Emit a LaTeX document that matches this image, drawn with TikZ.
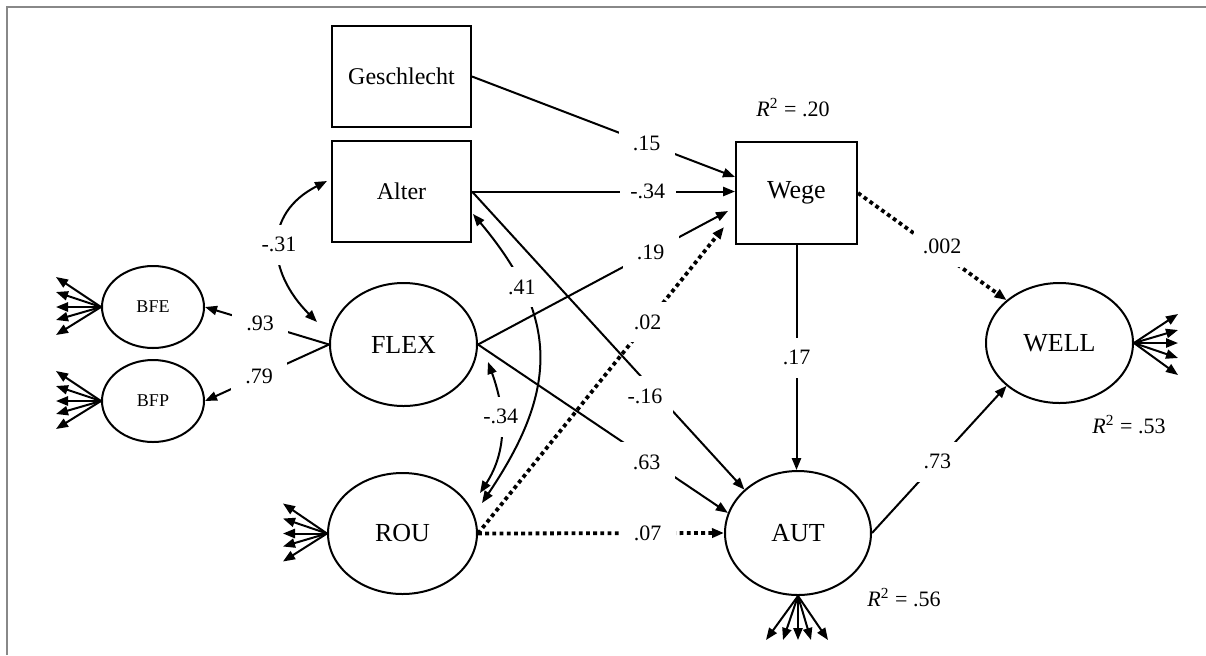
\documentclass[tikz,border=0pt]{standalone}
\usepackage{fontspec}
\setmainfont{Liberation Serif}
\usetikzlibrary{arrows.meta,shapes.geometric}
\definecolor{framegray}{HTML}{888888}

\begin{document}
\begin{tikzpicture}[x=0.5pt,y=0.5pt,
  >={Triangle[length=6pt,width=4.6pt]},
  box/.style={draw,line width=1pt,rectangle,inner sep=0pt,font=\fontsize{12}{14}\selectfont},
  latent/.style={draw,line width=1pt,ellipse,inner sep=0pt,font=\fontsize{13}{15}\selectfont},
  smalllatent/.style={draw,line width=1pt,ellipse,inner sep=0pt,font=\fontsize{9}{11}\selectfont,
    minimum width=51pt,minimum height=41pt},
  reg/.style={line width=1pt,->},
  ns/.style={line width=1.9pt,dash pattern=on 1.9pt off 1.7pt,->},
  cov/.style={line width=1pt,<->},
  ind/.style={line width=1pt,->},
  coef/.style={fill=white,inner sep=0pt,minimum width=28pt,minimum height=20pt,
    font=\fontsize{11}{13}\selectfont},
  rsq/.style={inner sep=0pt,font=\fontsize{11}{13}\selectfont}
]
\useasboundingbox (0,0) rectangle (1206,-655);

% frame
\draw[line width=1.1pt,framegray] (7,-655) -- (7,-7) -- (1206,-7);

% observed variables
\node[box,minimum width=69.5pt,minimum height=50.5pt] (ges) at (401.5,-76.5) {Geschlecht};
\node[box,minimum width=69.5pt,minimum height=50.5pt] (alter) at (401.5,-191.5) {Alter};
\node[box,minimum width=60.5pt,minimum height=51pt,font=\fontsize{13}{15}\selectfont] (wege) at (796.5,-193) {Wege};

% latent variables
\node[smalllatent] (bfe) at (153,-307) {BFE};
\node[smalllatent] (bfp) at (153,-401) {BFP};
\node[latent,minimum width=73.5pt,minimum height=61.5pt] (flex) at (403.5,-344.5) {FLEX};
\node[latent,minimum width=74.5pt,minimum height=60.5pt] (rou) at (402.5,-533.5) {ROU};
\node[latent,minimum width=73pt,minimum height=62pt] (aut) at (798,-533) {AUT};
\node[latent,minimum width=73.5pt,minimum height=60pt] (well) at (1059.5,-343) {WELL};

% explained variance
\node[rsq] (r2wege) at (793,-108) {\textit{R}\textsuperscript{2} = .20};
\node[rsq] (r2well) at (1129,-425) {\textit{R}\textsuperscript{2} = .53};
\node[rsq] (r2aut) at (904,-598) {\textit{R}\textsuperscript{2} = .56};

% covariances
\draw[cov] ([shift={(-4,10.5)}]alter.west) to[out=207,in=135,looseness=1.3]
  node[coef] {-.31} ([shift={(-86.5,22.5)}]flex.center);
\draw[cov] ([shift={(84.5,-17.5)}]flex.center) to[out=-70,in=57]
  node[coef,pos=0.4] {-.34} ([shift={(77.5,40.5)}]rou.center);
\draw[cov] ([shift={(1,-22.5)}]alter.east) to[out=-50,in=56,looseness=1.2]
  node[coef,pos=0.25] {.41} ([shift={(79.5,30.5)}]rou.center);

% structural paths
\draw[reg] (ges.east) -- node[coef,pos=0.664] {.15} ([yshift=8pt]wege.west);
\draw[reg] (alter.east) -- node[coef,pos=0.668] {-.34} (alter.east -| wege.west);
\draw[reg] (flex.east) -- node[coef,pos=0.69] {.19} ([shift={(-7,-18)}]wege.west);
\draw[ns] (rou.east) -- node[coef,pos=0.69] {.02} ([shift={(-11,-34)}]wege.west);
\draw[reg] (alter.east) -- node[coef,pos=0.646,xshift=-1.5pt,yshift=-6pt] {-.16} (aut.141);
\draw[reg] (flex.east) -- node[coef,pos=0.675,yshift=-2pt] {.63} (aut.164);
\draw[ns] (rou.east) -- node[coef,pos=0.69] {.07} (aut.west);
\draw[reg] (wege.south) -- node[coef] {.17} (wege.south |- aut.north);
\draw[ns] (wege.east) -- node[coef,pos=0.567,yshift=3.5pt] {.002} (well.141);
\draw[reg] (aut.east) -- node[coef,pos=0.485] {.73} (well.219);

% loadings of the second-order factor
\draw[reg] (flex.west) -- node[coef,pos=0.556] {.93} (bfe.east);
\draw[reg] (flex.west) -- node[coef,pos=0.563] {.79} (bfp.east);

% indicator fans
\foreach \d in {30,15,0,-13,-28} {
  \draw[ind] (bfe.west) -- ++(-45,\d);
  \draw[ind] (bfp.west) -- ++(-45,\d);
  \draw[ind] (rou.west) -- ++(-44,\d);
}
\foreach \d in {29,13,0,-15,-32} \draw[ind] (well.east) -- ++(44,\d);
\foreach \d in {-32,-15,0,13,30} \draw[ind] (aut.south) -- ++(\d,-44);
\end{tikzpicture}
\end{document}
